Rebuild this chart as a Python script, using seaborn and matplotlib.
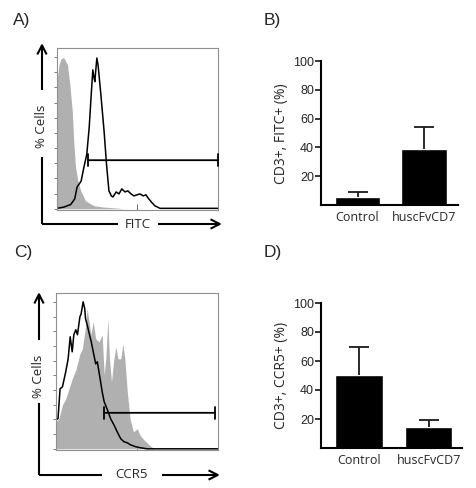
import numpy as np
import matplotlib
matplotlib.use('Agg')
import matplotlib.pyplot as plt
from matplotlib.patches import FancyArrowPatch
import seaborn as sns

sns.set_style('ticks')
plt.rcParams['font.family'] = ['Liberation Sans', 'DejaVu Sans']

W, H = 477, 488

# A) FITC histogram, x in log10 decades, y in % of max
fitc_fill_x = [0, 0.05, 0.10, 0.16, 0.20, 0.26, 0.32, 0.38, 0.42, 0.46, 0.52, 0.59,
               0.71, 0.92, 1.17, 1.42, 1.69, 4.0]
fitc_fill_y = [84, 95, 98.7, 99.7, 98, 94.8, 81.7, 64, 42.5, 27.5, 18.3, 11.8,
               5.2, 2, 1.1, 0.6, 0, 0]
fitc_line_x = [0, 0.17, 0.34, 0.44, 0.50, 0.55, 0.60, 0.67, 0.74, 0.80, 0.85, 0.89,
               0.92, 0.94, 0.96, 0.99, 1.02, 1.09, 1.17, 1.23, 1.29, 1.35, 1.39, 1.47,
               1.54, 1.61, 1.69, 1.76, 1.84, 1.91, 1.99, 2.06, 2.14, 2.21, 2.26, 2.34,
               2.43, 2.56, 4.0]
fitc_line_y = [0.3, 1.1, 2.8, 6.5, 14.4, 16.3, 18.3, 27.5, 35.9, 53.6, 75.2, 91.5,
               86.3, 83.7, 90.2, 99.3, 94.8, 75.2, 51, 29.4, 11.8, 8.5, 7.8, 11.1,
               9.8, 13.1, 11.1, 11.8, 9.8, 8.5, 9.2, 9.8, 8.5, 9.2, 7.2, 4.6,
               2, 0.3, 0.3]
fitc_gate = [0.77, 4.0, 32]

# C) CCR5 histogram
ccr5_fill_x = [0, 0.07, 0.16, 0.24, 0.32, 0.40, 0.49, 0.54, 0.59, 0.65, 0.72, 0.77,
               0.81, 0.86, 0.92, 0.98, 1.06, 1.14, 1.19, 1.23, 1.28, 1.32, 1.37, 1.43,
               1.48, 1.53, 1.60, 1.65, 1.70, 1.76, 1.83, 1.91, 2.01, 2.07, 2.17, 2.30,
               2.42, 4.0]
ccr5_fill_y = [18.4, 20.4, 29.9, 34, 40.8, 47.6, 53.7, 59.2, 64.6, 68, 81, 95.2,
               87.8, 77.6, 86.4, 74.8, 72.8, 77.6, 50.3, 61.2, 88.4, 61.2, 45.6, 61.2,
               69.4, 61.2, 61.2, 71.4, 61.2, 38.8, 20.4, 11.6, 13.6, 9.5, 6.1, 2.7,
               0, 0]
ccr5_line_x = [0, 0.05, 0.10, 0.16, 0.24, 0.30, 0.35, 0.40, 0.44, 0.49, 0.53, 0.59,
               0.62, 0.67, 0.71, 0.73, 0.77, 0.81, 0.87, 0.98, 1.02, 1.09, 1.14, 1.19,
               1.27, 1.35, 1.43, 1.51, 1.60, 1.68, 1.76, 1.84, 1.97, 2.09, 2.25, 4.0]
ccr5_line_y = [19.7, 20.6, 40.8, 42.2, 52.4, 61.2, 76.2, 66, 77.6, 81, 77.6, 89.8,
               91.8, 100, 95.2, 88.4, 84.4, 79.6, 72.8, 57.8, 59.2, 47.6, 38.8, 32,
               26.5, 20.4, 16.3, 11.6, 6.8, 4.8, 4.1, 2.7, 1.4, 0.7, 0, 0]
ccr5_gate = [1.19, 3.93, 24.5]

# B) and D) bar charts
groups = ['Control', 'huscFvCD7']
fitc_mean = [5.6, 38.9]
fitc_err = [3.2, 15.3]
ccr5_mean = [50.3, 14.5]
ccr5_err = [19.4, 4.8]

fig = plt.figure(figsize=(W / 100, H / 100), dpi=100)
fig.patch.set_facecolor('white')


def px_axes(l, t, r, b):
    return fig.add_axes([l / W, 1 - b / H, (r - l) / W, (b - t) / H])


def fx(x):
    return x / W


def fy(y):
    return 1 - y / H


def seg(x0, y0, x1, y1, head=False):
    style = '->,head_length=0.55,head_width=0.28' if head else '-'
    fig.add_artist(FancyArrowPatch((fx(x0), fy(y0)), (fx(x1), fy(y1)),
                                   transform=fig.transFigure, arrowstyle=style,
                                   mutation_scale=12, lw=1.5, color='black',
                                   shrinkA=0, shrinkB=0, capstyle='butt'))


def flow_panel(ax, fill_x, fill_y, line_x, line_y, gate, ytop):
    ax.set_xscale('log')
    ax.fill_between(10 ** np.array(fill_x), fill_y, color='#b0b0b0', lw=0)
    sns.lineplot(x=10 ** np.array(line_x), y=line_y, color='black', lw=1.1,
                 ax=ax, sort=False)
    ax.annotate('', xy=(10 ** gate[1], gate[2]), xytext=(10 ** gate[0], gate[2]),
                arrowprops=dict(arrowstyle='|-|,widthA=0.35,widthB=0.35', lw=1.3,
                                color='black', shrinkA=0, shrinkB=0,
                                mutation_scale=12))
    ax.set_xlim(1, 1e4)
    ax.set_ylim(-0.8, ytop)
    ax.set_yticks(range(0, 101, 10))
    ax.tick_params(axis='y', direction='out', length=2.5, width=0.6,
                   color='#666666', labelleft=False)
    ax.tick_params(axis='x', which='major', direction='in', length=4, width=0.6,
                   color='#555555', labelbottom=False)
    ax.tick_params(axis='x', which='minor', direction='in', length=2.5, width=0.5,
                   color='#666666')
    for s in ax.spines.values():
        s.set_color('#909090')
        s.set_linewidth(0.8)
    ax.set_xlabel('')
    ax.set_ylabel('')


def bar_panel(ax, means, errs, xlim):
    sns.barplot(x=groups, y=means, color='black', saturation=1, width=0.68,
                ax=ax, errorbar=None)
    eb = ax.errorbar([0, 1], means, yerr=[[0, 0], errs], fmt='none',
                     ecolor='#1a1a1a', elinewidth=1.3, capsize=7, capthick=1.3)
    # only the upper cap, as in the original figure
    eb[1][0].set_visible(False)
    ax.set_xlim(*xlim)
    ax.set_ylim(0, 100)
    ax.set_yticks([20, 40, 60, 80, 100])
    sns.despine(ax=ax)
    for s in ('left', 'bottom'):
        ax.spines[s].set_linewidth(1.5)
        ax.spines[s].set_color('black')
    ax.tick_params(axis='y', length=4, width=1.3, pad=1, labelsize=9)
    ax.tick_params(axis='x', length=0, pad=4)
    for lab in ax.get_xticklabels():
        lab.set_fontfamily(['Open Sans', 'DejaVu Sans'])
        lab.set_fontsize(9)
    ax.set_xlabel('')
    ax.set_ylabel('')


# A
axa = px_axes(57, 48, 218, 210)
flow_panel(axa, fitc_fill_x, fitc_fill_y, fitc_line_x, fitc_line_y, fitc_gate, 105.9)
seg(42, 224, 42, 157)
seg(42, 90, 42, 43, head=True)
seg(42, 224, 118, 224)
seg(158, 224, 222, 224, head=True)
fig.text(fx(42), fy(126), '% Cells', rotation=90, ha='center', va='center',
         fontsize=9.5, family=['Open Sans', 'DejaVu Sans'])
fig.text(fx(138), fy(224), 'FITC', ha='center', va='center',
         fontsize=9.5, family=['Open Sans', 'DejaVu Sans'])

# C
axc = px_axes(56, 293, 218, 450)
flow_panel(axc, ccr5_fill_x, ccr5_fill_y, ccr5_line_x, ccr5_line_y, ccr5_gate, 106)
seg(39, 475, 39, 403)
seg(39, 340, 39, 292, head=True)
seg(39, 475, 102, 475)
seg(162, 475, 220, 475, head=True)
fig.text(fx(39), fy(376), '% Cells', rotation=90, ha='center', va='center',
         fontsize=9.5, family=['Open Sans', 'DejaVu Sans'])
fig.text(fx(132), fy(475), 'CCR5', ha='center', va='center',
         fontsize=9.5, family=['Open Sans', 'DejaVu Sans'])

# B
axb = px_axes(321, 61, 458, 205)
bar_panel(axb, fitc_mean, fitc_err, (-0.549, 1.511))
fig.text(fx(282), fy(134), 'CD3+, FITC+ (%)', rotation=90, ha='center', va='center',
         fontsize=10, family=['Open Sans', 'DejaVu Sans'])

# D
axd = px_axes(321, 303, 462, 448)
bar_panel(axd, ccr5_mean, ccr5_err, (-0.547, 1.48))
fig.text(fx(282), fy(375), 'CD3+, CCR5+ (%)', rotation=90, ha='center', va='center',
         fontsize=10, family=['Open Sans', 'DejaVu Sans'])

for lbl, x, y in [('A)', 22, 21), ('B)', 272, 21), ('C)', 23, 253), ('D)', 273, 253)]:
    fig.text(fx(x), fy(y), lbl, ha='center', va='center', fontsize=12.5)

fig.savefig('out.png', dpi=100)
